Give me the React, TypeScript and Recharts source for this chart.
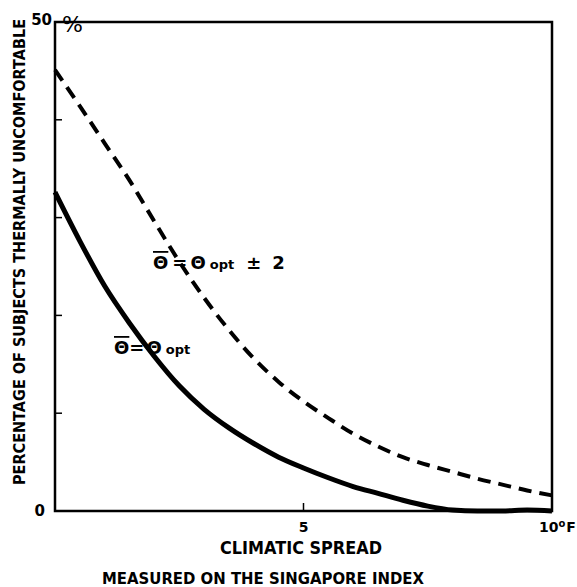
import React from 'react';
import { LineChart, Line, XAxis, YAxis, ReferenceArea } from 'recharts';

// climatic spread (deg F), measured on the Singapore index
const spread = [0, 0.5, 1, 1.5, 2, 2.5, 3, 3.5, 4, 4.5, 5, 5.5, 6, 6.5, 7, 7.5, 8, 8.5, 9, 9.5, 10];
// mean temperature = optimum
const atOptimum = [32.6, 27.6, 23.0, 19.2, 15.8, 12.8, 10.4, 8.5, 6.9, 5.5, 4.4, 3.4, 2.5, 1.8, 1.1, 0.5, 0.1, 0, 0, 0.1, 0];
// mean temperature = optimum +/- 2
const offOptimum = [45.1, 41.4, 37.6, 33.8, 29.6, 25.5, 21.8, 18.5, 15.6, 13.2, 11.2, 9.5, 7.9, 6.6, 5.5, 4.7, 4.0, 3.3, 2.7, 2.1, 1.6];

const yTicks = [0, 10, 20, 30, 40, 50];
const xTicks = [0, 5, 10];

const chartData = spread.map((x, i) => ({ x, solid: atOptimum[i], dashed: offOptimum[i] }));

const FONT = '"DejaVu Sans", sans-serif';

const LeftTick = (props: any) => {
  const { x, y, payload } = props;
  const v = payload.value;
  return (
    <g fontFamily={FONT} fontWeight="bold" fill="#000">
      {v > 0 && v < 50 && <line x1={x} x2={x + 7} y1={y} y2={y} stroke="#000" strokeWidth={1.5} />}
      {v === 50 && (
        <>
          <text x={x - 3} y={y + 3} textAnchor="end" fontSize={15}>50</text>
          <text x={x + 7} y={y + 10} textAnchor="start" fontSize={22} fontWeight="normal">%</text>
        </>
      )}
      {v === 0 && <text x={x - 10} y={y + 5} textAnchor="end" fontSize={15}>0</text>}
    </g>
  );
};

const RightTick = (props: any) => {
  const { x, y, payload } = props;
  const v = payload.value;
  if (v <= 0 || v >= 50) return <g />;
  return <line x1={x} x2={x - 7} y1={y} y2={y} stroke="#000" strokeWidth={1.5} />;
};

const BottomTick = (props: any) => {
  const { x, y, payload } = props;
  const v = payload.value;
  return (
    <g fontFamily={FONT} fontWeight="bold" fill="#000">
      {v === 5 && (
        <>
          <line x1={x} x2={x} y1={y} y2={y - 8} stroke="#000" strokeWidth={1.5} />
          <text x={x} y={y + 21} textAnchor="middle" fontSize={14}>5</text>
        </>
      )}
      {v === 10 && (
        <text x={x - 13} y={y + 21} textAnchor="start" fontSize={14}>
          10<tspan dy={-5} fontSize={10}>o</tspan><tspan dy={5} dx={1}>F</tspan>
        </text>
      )}
    </g>
  );
};

export default function App() {
  return (
    <div style={{ position: 'absolute', left: 0, top: 0, width: 577, height: 587, background: '#fff' }}>
      <LineChart width={577} height={587} data={chartData} margin={{ top: 22, right: 0, bottom: 46, left: 0 }}>
        <XAxis
          dataKey="x"
          type="number"
          domain={[0, 10]}
          ticks={xTicks}
          height={30}
          axisLine={false}
          tickLine={false}
          tickSize={0}
          tickMargin={0}
          tick={<BottomTick />}
        />
        <YAxis
          yAxisId="l"
          domain={[0, 50]}
          ticks={yTicks}
          width={55}
          axisLine={false}
          tickLine={false}
          tickSize={0}
          tickMargin={0}
          tick={<LeftTick />}
        />
        <YAxis
          yAxisId="r"
          orientation="right"
          domain={[0, 50]}
          ticks={yTicks}
          width={25}
          axisLine={false}
          tickLine={false}
          tickSize={0}
          tickMargin={0}
          tick={<RightTick />}
        />
        <ReferenceArea yAxisId="l" x1={0} x2={10} y1={0} y2={50} fill="none" fillOpacity={0} stroke="#000" strokeWidth={2.5} />
        <Line
          yAxisId="l"
          type="monotone"
          dataKey="dashed"
          stroke="#000"
          strokeWidth={4}
          strokeDasharray="13 8"
          dot={false}
          isAnimationActive={false}
        />
        <Line
          yAxisId="l"
          type="monotone"
          dataKey="solid"
          stroke="#000"
          strokeWidth={5}
          dot={false}
          isAnimationActive={false}
        />
      </LineChart>
      <svg width={577} height={587} style={{ position: 'absolute', left: 0, top: 0, pointerEvents: 'none' }}>
        <g fontFamily={FONT} fontWeight="bold" fill="#000">
          <text
            transform="translate(25,252) rotate(-90)"
            textAnchor="middle"
            fontSize={15}
            textLength={466}
            lengthAdjust="spacingAndGlyphs"
          >
            PERCENTAGE OF SUBJECTS THERMALLY UNCOMFORTABLE
          </text>
          <text x={301} y={554} textAnchor="middle" fontSize={18} textLength={162} lengthAdjust="spacingAndGlyphs">
            CLIMATIC SPREAD
          </text>
          <text x={263} y={584} textAnchor="middle" fontSize={16} textLength={322} lengthAdjust="spacingAndGlyphs">
            MEASURED ON THE SINGAPORE INDEX
          </text>
          <text x={153} y={269} fontSize={18}>
            <tspan style={{ textDecoration: 'overline' }}>{'\u0398'}</tspan>
            <tspan dx={4}>=</tspan>
            <tspan dx={3}>{'\u0398'}</tspan>
            <tspan dx={4} fontSize={13}>opt</tspan>
            <tspan dx={12}>±</tspan>
            <tspan dx={11}>2</tspan>
          </text>
          <text x={114} y={354} fontSize={18}>
            <tspan style={{ textDecoration: 'overline' }}>{'\u0398'}</tspan>
            <tspan dx={0}>=</tspan>
            <tspan dx={2}>{'\u0398'}</tspan>
            <tspan dx={4} fontSize={13}>opt</tspan>
          </text>
        </g>
      </svg>
    </div>
  );
}
